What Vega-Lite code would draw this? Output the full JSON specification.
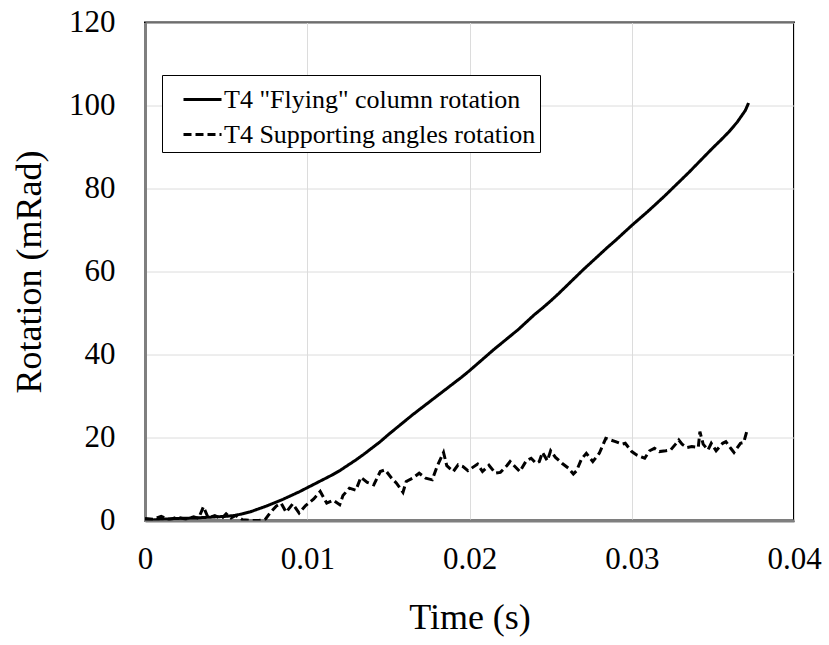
{
  "$schema": "https://vega.github.io/schema/vega-lite/v6.json",
  "width": 649,
  "height": 498,
  "autosize": "none",
  "padding": {"left": 145, "top": 22.5, "right": 35, "bottom": 124.5},
  "background": "white",
  "datasets": {
    "solid": [
      {"t": 0, "v": 0}, {"t": 0.001, "v": 0.3}, {"t": 0.002, "v": 0.5}, {"t": 0.003, "v": 0.6},
      {"t": 0.004, "v": 0.8}, {"t": 0.005, "v": 1.0}, {"t": 0.0055, "v": 1.2}, {"t": 0.006, "v": 1.6},
      {"t": 0.0065, "v": 2.1}, {"t": 0.007, "v": 2.8}, {"t": 0.0075, "v": 3.5}, {"t": 0.008, "v": 4.3},
      {"t": 0.0085, "v": 5.1}, {"t": 0.009, "v": 6.0}, {"t": 0.0095, "v": 6.9}, {"t": 0.010, "v": 7.9},
      {"t": 0.0105, "v": 8.9}, {"t": 0.011, "v": 9.9}, {"t": 0.0115, "v": 10.9}, {"t": 0.012, "v": 12.0},
      {"t": 0.0125, "v": 13.3}, {"t": 0.013, "v": 14.6}, {"t": 0.0135, "v": 16.0}, {"t": 0.014, "v": 17.5},
      {"t": 0.0145, "v": 19.0}, {"t": 0.015, "v": 20.7}, {"t": 0.0155, "v": 22.3}, {"t": 0.016, "v": 23.9},
      {"t": 0.0165, "v": 25.5}, {"t": 0.017, "v": 27.0}, {"t": 0.0175, "v": 28.5}, {"t": 0.018, "v": 30.0},
      {"t": 0.0185, "v": 31.5}, {"t": 0.019, "v": 33.0}, {"t": 0.0195, "v": 34.5}, {"t": 0.020, "v": 36.1},
      {"t": 0.0205, "v": 37.8}, {"t": 0.021, "v": 39.5}, {"t": 0.0215, "v": 41.2}, {"t": 0.022, "v": 42.8},
      {"t": 0.0225, "v": 44.4}, {"t": 0.023, "v": 46.0}, {"t": 0.0235, "v": 47.8}, {"t": 0.024, "v": 49.6},
      {"t": 0.0245, "v": 51.2}, {"t": 0.025, "v": 52.9}, {"t": 0.0255, "v": 54.7}, {"t": 0.026, "v": 56.6},
      {"t": 0.0265, "v": 58.5}, {"t": 0.027, "v": 60.4}, {"t": 0.0275, "v": 62.2}, {"t": 0.028, "v": 64.0},
      {"t": 0.0285, "v": 65.8}, {"t": 0.029, "v": 67.5}, {"t": 0.0295, "v": 69.3}, {"t": 0.030, "v": 71.1},
      {"t": 0.0305, "v": 72.8}, {"t": 0.031, "v": 74.5}, {"t": 0.0315, "v": 76.3}, {"t": 0.032, "v": 78.1},
      {"t": 0.0325, "v": 80.0}, {"t": 0.033, "v": 81.9}, {"t": 0.0335, "v": 83.8}, {"t": 0.034, "v": 85.8},
      {"t": 0.0345, "v": 87.8}, {"t": 0.035, "v": 89.8}, {"t": 0.0355, "v": 91.7}, {"t": 0.036, "v": 93.7},
      {"t": 0.0365, "v": 96.0}, {"t": 0.037, "v": 98.8}, {"t": 0.0372, "v": 100.6}
    ],
    "dashed": [
      {"t": 0, "v": 0.5}, {"t": 0.0005, "v": 0.3}, {"t": 0.001, "v": 1.0}, {"t": 0.0015, "v": 0.2},
      {"t": 0.002, "v": 0.8}, {"t": 0.0025, "v": 0.3}, {"t": 0.003, "v": 0.9}, {"t": 0.0033, "v": 0.5},
      {"t": 0.0036, "v": 3.3}, {"t": 0.0039, "v": 0.6}, {"t": 0.0043, "v": 1.2}, {"t": 0.0047, "v": 0.4},
      {"t": 0.005, "v": 1.6}, {"t": 0.0053, "v": 0.6}, {"t": 0.0056, "v": 1.2}, {"t": 0.006, "v": 0.2},
      {"t": 0.0065, "v": 0}, {"t": 0.007, "v": 0}, {"t": 0.0074, "v": 0.2}, {"t": 0.0077, "v": 1.8},
      {"t": 0.0081, "v": 3.5}, {"t": 0.0084, "v": 4.1}, {"t": 0.0087, "v": 2.0}, {"t": 0.0091, "v": 4.0},
      {"t": 0.0095, "v": 1.8}, {"t": 0.0099, "v": 3.6}, {"t": 0.0104, "v": 5.2}, {"t": 0.0108, "v": 7.0},
      {"t": 0.0112, "v": 4.2}, {"t": 0.0116, "v": 4.9}, {"t": 0.012, "v": 3.8}, {"t": 0.0122, "v": 6.0},
      {"t": 0.0126, "v": 7.8}, {"t": 0.013, "v": 7.3}, {"t": 0.0133, "v": 10.4}, {"t": 0.0137, "v": 9.2},
      {"t": 0.0141, "v": 8.6}, {"t": 0.0145, "v": 11.8}, {"t": 0.0148, "v": 12.2}, {"t": 0.0152, "v": 10.2},
      {"t": 0.0155, "v": 9.0}, {"t": 0.0159, "v": 6.8}, {"t": 0.0161, "v": 9.4}, {"t": 0.0165, "v": 10.2},
      {"t": 0.0169, "v": 11.4}, {"t": 0.0173, "v": 10.2}, {"t": 0.0177, "v": 9.8}, {"t": 0.018, "v": 13.0},
      {"t": 0.0184, "v": 16.4}, {"t": 0.0186, "v": 13.2}, {"t": 0.019, "v": 11.8}, {"t": 0.0193, "v": 13.4},
      {"t": 0.0196, "v": 13.0}, {"t": 0.0199, "v": 12.0}, {"t": 0.0202, "v": 12.8}, {"t": 0.0205, "v": 13.6},
      {"t": 0.0208, "v": 11.8}, {"t": 0.0212, "v": 13.3}, {"t": 0.0216, "v": 11.4}, {"t": 0.0219, "v": 11.6},
      {"t": 0.0223, "v": 13.2}, {"t": 0.0225, "v": 14.2}, {"t": 0.0231, "v": 11.8}, {"t": 0.0235, "v": 14.4},
      {"t": 0.0238, "v": 15.0}, {"t": 0.0241, "v": 13.8}, {"t": 0.0243, "v": 14.2}, {"t": 0.0245, "v": 16.4},
      {"t": 0.0248, "v": 14.4}, {"t": 0.025, "v": 16.8}, {"t": 0.0253, "v": 15.2}, {"t": 0.0257, "v": 13.8},
      {"t": 0.0261, "v": 12.6}, {"t": 0.0264, "v": 11.2}, {"t": 0.0266, "v": 12.0}, {"t": 0.0269, "v": 14.8},
      {"t": 0.0272, "v": 16.2}, {"t": 0.0276, "v": 14.2}, {"t": 0.028, "v": 16.2}, {"t": 0.0284, "v": 19.8},
      {"t": 0.0287, "v": 19.4}, {"t": 0.029, "v": 19.0}, {"t": 0.0294, "v": 18.4}, {"t": 0.0296, "v": 18.6},
      {"t": 0.03, "v": 16.6}, {"t": 0.0303, "v": 15.8}, {"t": 0.0308, "v": 15.0}, {"t": 0.0311, "v": 16.8},
      {"t": 0.0314, "v": 17.4}, {"t": 0.0317, "v": 16.6}, {"t": 0.0321, "v": 16.8}, {"t": 0.0324, "v": 17.0},
      {"t": 0.0327, "v": 18.4}, {"t": 0.0329, "v": 19.4}, {"t": 0.0331, "v": 18.4}, {"t": 0.0334, "v": 17.6},
      {"t": 0.0337, "v": 17.8}, {"t": 0.0341, "v": 17.6}, {"t": 0.0342, "v": 21.4}, {"t": 0.0344, "v": 18.4},
      {"t": 0.0347, "v": 17.0}, {"t": 0.0349, "v": 18.6}, {"t": 0.0352, "v": 16.8}, {"t": 0.0356, "v": 18.6},
      {"t": 0.0358, "v": 19.0}, {"t": 0.0361, "v": 17.4}, {"t": 0.0363, "v": 16.4}, {"t": 0.0367, "v": 18.6},
      {"t": 0.0369, "v": 18.8}, {"t": 0.0371, "v": 21.6}
    ]
  },
  "layer": [
    {
      "data": {"name": "solid"},
      "transform": [{"calculate": "'T4 \"Flying\" column rotation'", "as": "series"}],
      "mark": {"type": "line", "color": "black", "strokeWidth": 3, "clip": true},
      "encoding": {
        "x": {"field": "t", "type": "quantitative"},
        "y": {"field": "v", "type": "quantitative"},
        "strokeDash": {"field": "series", "type": "nominal"}
      }
    },
    {
      "data": {"name": "dashed"},
      "transform": [{"calculate": "'T4 Supporting angles rotation'", "as": "series"}],
      "mark": {"type": "line", "color": "black", "strokeWidth": 3, "clip": true},
      "encoding": {
        "x": {"field": "t", "type": "quantitative"},
        "y": {"field": "v", "type": "quantitative"},
        "strokeDash": {"field": "series", "type": "nominal"}
      }
    }
  ],
  "resolve": {"scale": {"strokeDash": "shared"}},
  "encoding": {
    "x": {
      "field": "t", "type": "quantitative",
      "scale": {"domain": [0, 0.04], "nice": false},
      "axis": {"title": "Time (s)", "values": [0, 0.01, 0.02, 0.03, 0.04], "format": "~g", "labelPadding": 24, "titlePadding": 26, "labelFlush": false}
    },
    "y": {
      "field": "v", "type": "quantitative",
      "scale": {"domain": [0, 120], "nice": false},
      "axis": {"title": "Rotation (mRad)", "values": [0, 20, 40, 60, 80, 100, 120], "labelPadding": 30, "titlePadding": 20, "labelFlush": false}
    },
    "strokeDash": {
      "field": "series", "type": "nominal",
      "scale": {"domain": ["T4 \"Flying\" column rotation", "T4 Supporting angles rotation"], "range": [[1, 0], [8, 4]]},
      "legend": {
        "title": null, "orient": "none", "legendX": 17, "legendY": 52.5,
        "strokeColor": "black", "fillColor": "white",
        "padding": 4, "symbolType": "stroke", "symbolSize": 1444, "symbolStrokeWidth": 3,
        "symbolStrokeColor": "black", "symbolOffset": 16,
        "labelFont": "Liberation Serif", "labelFontSize": 26, "labelColor": "black",
        "labelOffset": 1, "rowPadding": 1, "labelLimit": 500,
        "labelExpr": "datum.label + '\u00a0\u00a0\u00a0\u00a0\u00a0'"
      }
    }
  },
  "config": {
    "font": "Liberation Serif",
    "view": {"stroke": "black", "strokeWidth": 2},
    "legend": {"labelFont": "Liberation Serif"},
    "axis": {
      "domainColor": "#7f7f7f", "domainWidth": 3,
      "gridColor": "#dcdcdc", "gridWidth": 1,
      "ticks": false, "tickSize": 0,
      "labelFont": "Liberation Serif", "labelFontSize": 31, "labelColor": "black",
      "titleFont": "Liberation Serif", "titleFontSize": 36, "titleFontWeight": "normal", "titleColor": "black"
    }
  }
}
